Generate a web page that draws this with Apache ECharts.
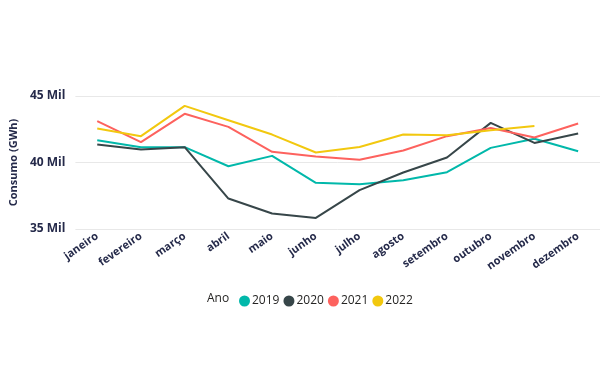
<!DOCTYPE html>
<html>
<head>
<meta charset="utf-8">
<script src="https://cdn.jsdelivr.net/npm/echarts@6/dist/echarts.min.js"></script>
<style>
  html, body { margin: 0; padding: 0; background: #ffffff; }
  #chart { width: 600px; height: 375px; }
</style>
</head>
<body>
<div id="chart"></div>
<script>
  // meses e consumo mensal (GWh) por ano
  var meses = ['janeiro', 'fevereiro', 'março', 'abril', 'maio', 'junho', 'julho', 'agosto', 'setembro', 'outubro', 'novembro', 'dezembro']
  var anos = ['2019', '2020', '2021', '2022']
  var consumo2019 = [41680, 41150, 41150, 39720, 40500, 38470, 38370, 38670, 39270, 41100, 41780, 40850]
  var consumo2020 = [41350, 40980, 41150, 37290, 36170, 35830, 37920, 39250, 40380, 42980, 41470, 42180]
  var consumo2021 = [43110, 41530, 43660, 42680, 40800, 40450, 40200, 40900, 41980, 42600, 41880, 42930]
  var consumo2022 = [42560, 41980, 44260, 43180, 42100, 40750, 41170, 42100, 42050, 42430, 42750, null]
  var cores = ['#01B8AA', '#374649', '#FD625E', '#F2C80F']
  var yTicks = [35000, 40000, 45000]

  var fonte = '"Open Sans", "Noto Sans", sans-serif'
  var series = [consumo2019, consumo2020, consumo2021, consumo2022].map(function (dados, i) {
    return {
      name: anos[i],
      type: 'line',
      data: dados,
      symbol: 'none',
      lineStyle: { width: 2, color: cores[i] },
      itemStyle: { color: cores[i] }
    }
  })

  var myChart = echarts.init(document.getElementById('chart'))
  myChart.setOption({
    animation: false,
    textStyle: { fontFamily: fonte },
    grid: { left: 74, right: -8, top: 96, height: 133 },
    legend: {
      data: anos,
      left: 234,
      top: 290,
      icon: 'circle',
      itemWidth: 11,
      itemHeight: 11,
      itemGap: 4,
      textStyle: { fontSize: 12, color: '#252423', fontFamily: fonte, padding: [0, 0, 0, -3] }
    },
    graphic: [{
      type: 'text',
      left: 207,
      top: 293,
      style: { text: 'Ano', fontSize: 12, fill: '#252423', fontFamily: fonte }
    }],
    xAxis: {
      type: 'category',
      data: meses,
      boundaryGap: true,
      axisLine: { show: false },
      axisTick: { show: false },
      axisLabel: {
        rotate: 35,
        margin: 6,
        fontSize: 11,
        fontWeight: 'bold',
        color: '#252a4a',
        interval: 0
      }
    },
    yAxis: {
      type: 'value',
      min: yTicks[0],
      max: yTicks[yTicks.length - 1],
      interval: yTicks[1] - yTicks[0],
      name: 'Consumo (GWh)',
      nameLocation: 'middle',
      nameGap: 47,
      nameTextStyle: { fontSize: 11, fontWeight: 'bold', color: '#252a4a' },
      axisLabel: {
        fontSize: 12,
        fontWeight: 'bold',
        color: '#252a4a',
        margin: 10,
        formatter: function (v) { return (v / 1000) + ' Mil' }
      },
      splitLine: { lineStyle: { color: '#e8e8e8', width: 1 } }
    },
    series: series
  })
</script>
</body>
</html>
